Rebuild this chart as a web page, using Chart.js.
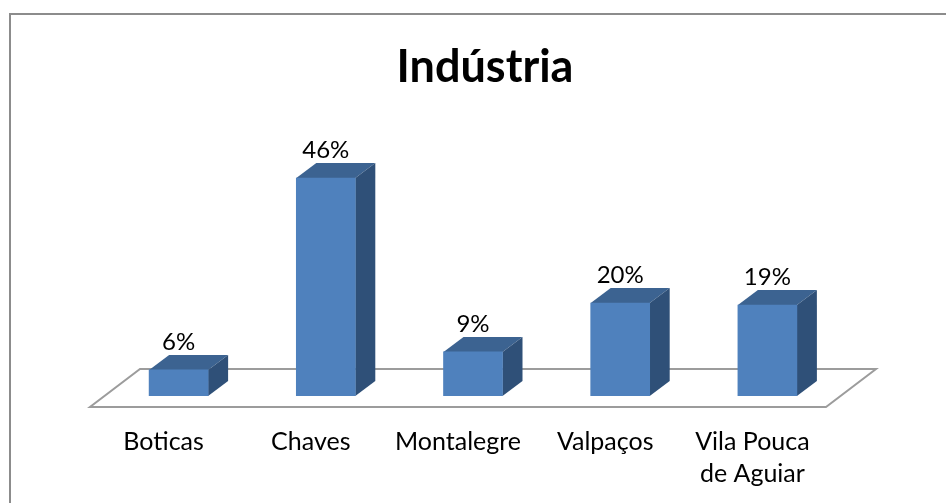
<!DOCTYPE html>
<html>
<head>
<meta charset="utf-8">
<title>Indústria</title>
<script src="https://cdn.jsdelivr.net/npm/chart.js@4/dist/chart.umd.min.js"></script>
<style>
    html, body { margin: 0; padding: 0; background: #fff; overflow: hidden; }
    #wrap { position: relative; width: 946px; height: 503px; }
    #frame { position: absolute; left: 9px; top: 13px; right: 0; bottom: 0; border-left: 2px solid #8c8c8c; border-top: 2px solid #8c8c8c; }
    canvas { position: absolute; left: 0; top: 0; }
</style>
</head>
<body>
<div id="wrap">
    <div id="frame"></div>
    <canvas id="chart" width="946" height="503"></canvas>
</div>
<script>
var chartTitle = 'Indústria';
var categories = ['Boticas', 'Chaves', 'Montalegre', 'Valpaços', ['Vila Pouca', 'de Aguiar']];
var shares = [5.5, 46, 9.3, 19.6, 19.2];
var yMax = 50;

var fontFamily = 'Lato, "Open Sans", sans-serif';
var faceColor = '#4f81bd';
var topColor = '#3c6391';
var sideColor = '#2f5078';
var floorColor = '#9c9c9c';

// how far the boxes sit into the 3D floor, and how deep they are
var barShift = 15;
var depthX = 20;
var depthY = 15;

var box3d = {
    id: 'box3d',
    afterLayout: function(chart) {
        // the title is centred on the whole frame, not on the plot
        chart.titleBlock.left = 24;
        chart.titleBlock.right = chart.width;
    },
    afterDatasetsUpdate: function(chart) {
        chart.getDatasetMeta(0).data.forEach(function(bar) {
            bar.x += barShift;
        });
    },
    beforeDatasetsDraw: function(chart) {
        var ctx = chart.ctx;
        var area = chart.chartArea;

        // floor
        ctx.save();
        ctx.strokeStyle = floorColor;
        ctx.lineWidth = 2;
        ctx.lineJoin = 'miter';
        ctx.beginPath();
        ctx.moveTo(area.left, area.bottom + 11);
        ctx.lineTo(area.right, area.bottom + 11);
        ctx.lineTo(area.right + 50, area.bottom - 27);
        ctx.lineTo(area.left + 50, area.bottom - 27);
        ctx.closePath();
        ctx.stroke();

        // top and side of each box
        chart.getDatasetMeta(0).data.forEach(function(bar) {
            var half = bar.width / 2;
            var l = bar.x - half;
            var r = bar.x + half;

            ctx.fillStyle = topColor;
            ctx.beginPath();
            ctx.moveTo(l, bar.y);
            ctx.lineTo(l + depthX, bar.y - depthY);
            ctx.lineTo(r + depthX, bar.y - depthY);
            ctx.lineTo(r, bar.y);
            ctx.closePath();
            ctx.fill();

            ctx.fillStyle = sideColor;
            ctx.beginPath();
            ctx.moveTo(r, bar.y);
            ctx.lineTo(r + depthX, bar.y - depthY);
            ctx.lineTo(r + depthX, bar.base - depthY);
            ctx.lineTo(r, bar.base);
            ctx.closePath();
            ctx.fill();
        });
        ctx.restore();
    },
    afterDatasetsDraw: function(chart) {
        var ctx = chart.ctx;
        ctx.save();
        ctx.fillStyle = '#000';
        ctx.font = '24px ' + fontFamily;
        ctx.textAlign = 'center';
        ctx.textBaseline = 'middle';
        chart.getDatasetMeta(0).data.forEach(function(bar, i) {
            ctx.fillText(Math.round(shares[i]) + '%', bar.x, bar.y - 28);
        });
        ctx.restore();
    }
};

new Chart(document.getElementById('chart'), {
    type: 'bar',
    data: {
        labels: categories,
        datasets: [{ data: shares, backgroundColor: faceColor, borderWidth: 0, barThickness: 59 }]
    },
    plugins: [box3d],
    options: {
        responsive: false,
        animation: false,
        layout: { padding: { left: 90, right: 120, top: 0, bottom: 0 } },
        plugins: {
            legend: { display: false },
            tooltip: { enabled: false },
            title: {
                display: true,
                text: chartTitle,
                color: '#000',
                font: { family: fontFamily, size: 45, weight: 'bold', lineHeight: 1.2 },
                padding: { top: 40, bottom: 65 }
            }
        },
        scales: {
            x: {
                grid: { display: false },
                border: { display: false },
                afterFit: function(scale) { scale.height = 107; },
                ticks: {
                    color: '#000',
                    padding: 22,
                    maxRotation: 0,
                    autoSkip: false,
                    font: { family: fontFamily, size: 25, lineHeight: 1.28 }
                }
            },
            y: {
                display: false,
                min: 0,
                max: yMax
            }
        }
    }
});
</script>
</body>
</html>
